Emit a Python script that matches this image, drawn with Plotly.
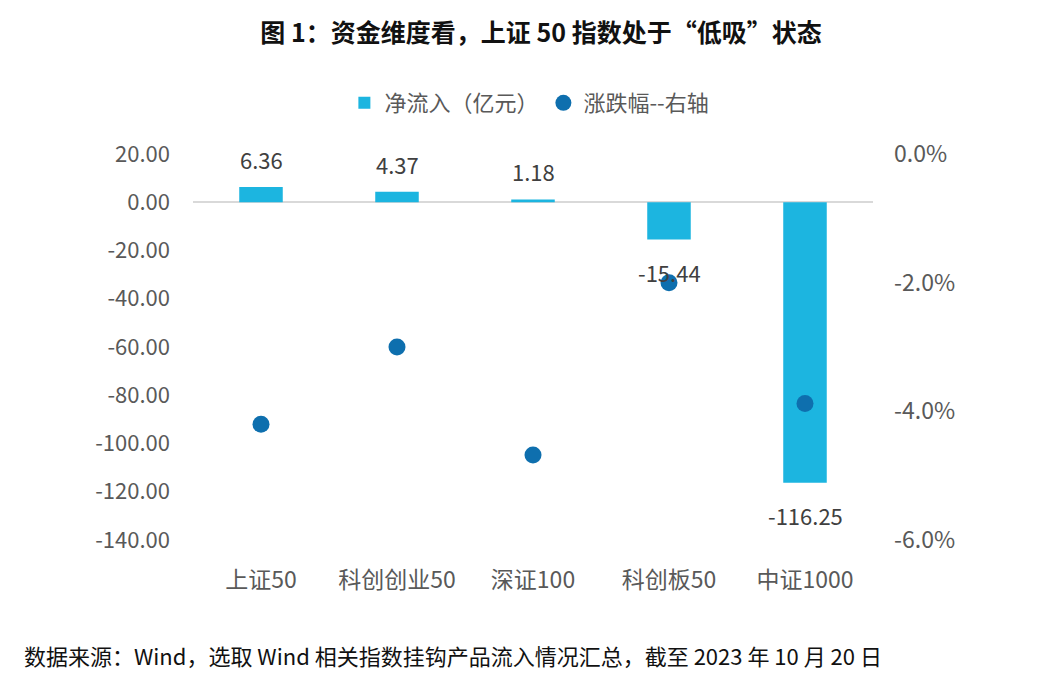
import plotly.graph_objects as go

categories = ["上证50", "科创创业50", "深证100", "科创板50", "中证1000"]
net_inflow = [6.36, 4.37, 1.18, -15.44, -116.25]
pct_change = [-4.20, -3.00, -4.68, -2.00, -3.88]
left_ticks = [20, 0, -20, -40, -60, -80, -100, -120, -140]
right_ticks = [0, -2, -4, -6]

FONT = "Noto Sans CJK SC"
GREY = "#595959"
BAR_C = "#1CB5E0"
DOT_C = "#0E6FAE"

fig = go.Figure()
fig.add_trace(go.Bar(
    x=categories, y=net_inflow, name="净流入（亿元）",
    marker=dict(color=BAR_C, line=dict(width=0)), width=0.32,
    yaxis="y",
))
fig.add_trace(go.Scatter(
    x=categories, y=pct_change, name="涨跌幅--右轴", mode="markers",
    marker=dict(color=DOT_C, size=17, line=dict(width=0)),
    yaxis="y2",
))

for c, v in zip(categories, net_inflow):
    fig.add_annotation(
        x=c, y=v, xref="x", yref="y", text=f"{v:.2f}", showarrow=False,
        yshift=28 if v >= 0 else -32,
        font=dict(family=FONT, size=22, color="#404040"),
    )

fig.update_layout(
    width=1038, height=681,
    margin=dict(l=193, r=165, t=154, b=141),
    paper_bgcolor="white", plot_bgcolor="white",
    font=dict(family=FONT, size=22, color=GREY),
    showlegend=True,
    legend=dict(orientation="h", x=0.51, xanchor="center", xref="container",
                y=1 - 103 / 681, yref="container", yanchor="middle",
                font=dict(family=FONT, size=22, color=GREY),
                itemwidth=30, tracegroupgap=0),
    xaxis=dict(
        type="category", showgrid=False, showline=False, zeroline=False,
        ticks="", ticklabelstandoff=24,
        tickfont=dict(family=FONT, size=23, color=GREY),
    ),
    yaxis=dict(
        range=[-140, 20], tickvals=left_ticks,
        ticktext=[f"{t:.2f}" for t in left_ticks],
        showgrid=False, zeroline=True, zerolinecolor="#D9D9D9", zerolinewidth=1.5,
        showline=False, ticks="", ticklabelstandoff=22,
        tickfont=dict(family=FONT, size=22, color=GREY),
    ),
    yaxis2=dict(
        range=[-6, 0], overlaying="y", side="right",
        tickvals=right_ticks, ticktext=[f"{t:.1f}%" for t in right_ticks],
        showgrid=False, zeroline=False, showline=False, ticks="",
        ticklabelstandoff=20,
        tickfont=dict(family=FONT, size=23, color=GREY),
    ),
    title=dict(text="<b>图 1：资金维度看，上证 50 指数处于“低吸”状态</b>",
               x=541 / 1038, xanchor="center", xref="container",
               y=1 - 33 / 681, yanchor="middle", yref="container",
               font=dict(family=FONT, size=25, color="#111111")),
)

fig.add_annotation(
    text="数据来源：Wind，选取 Wind 相关指数挂钩产品流入情况汇总，截至 2023 年 10 月 20 日",
    xref="paper", yref="paper", x=(22 - 193) / 680, xanchor="left",
    y=-(655 - 540) / 386, yanchor="middle", showarrow=False,
    font=dict(family=FONT, size=22, color="#111111"),
)

fig.write_html("out.html")
